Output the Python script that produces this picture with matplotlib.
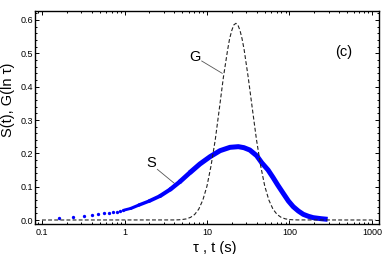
import numpy as np
import matplotlib.pyplot as plt
from matplotlib.collections import LineCollection
from matplotlib.ticker import LogLocator, MultipleLocator, NullFormatter

plt.rcParams['font.family'] = ['Liberation Sans', 'DejaVu Sans']

# G(ln tau), dashed curve
tau = [0.1, 3.98, 4.47, 5.01, 5.62, 6.31, 7.08, 7.94, 8.91, 10.0, 11.2, 12.6,
       14.1, 15.8, 17.8, 18.8, 20.0, 21.1, 22.4, 23.7, 25.1, 26.6, 28.2, 31.6,
       35.5, 39.8, 44.7, 50.1, 56.2, 63.1, 70.8, 79.4, 89.1, 100, 112, 126, 1100]
G = [0.0, 0.0002, 0.0005, 0.0014, 0.0034, 0.0078, 0.0165, 0.0325, 0.060, 0.102,
     0.163, 0.241, 0.333, 0.428, 0.511, 0.544, 0.569, 0.585, 0.590, 0.585, 0.569,
     0.544, 0.511, 0.428, 0.333, 0.241, 0.163, 0.102, 0.060, 0.0325, 0.0165,
     0.0078, 0.0034, 0.0014, 0.0005, 0.0002, 0.0]

# S(t), sampled points at small t
t_dots = [0.16, 0.24, 0.32, 0.40, 0.48, 0.56, 0.64, 0.72, 0.80, 0.88, 0.96]
S_dots = [0.006, 0.010, 0.013, 0.015, 0.017, 0.020, 0.021, 0.023, 0.025, 0.027, 0.029]

# S(t), dense part drawn as a thick line
t_line = [1.0, 1.2, 1.5, 2.0, 2.7, 3.6, 4.7, 6.2, 8.2, 10.9, 14.4, 19.0, 24.0,
          28.0, 33.0, 40.0, 46.0, 55.0, 63.0, 72.0, 84.0, 97.0, 111.0, 128.0,
          147.0, 170.0, 194.0, 240.0, 290.0]
S_line = [0.030, 0.035, 0.045, 0.057, 0.072, 0.092, 0.115, 0.142, 0.168, 0.190,
          0.208, 0.218, 0.220, 0.217, 0.210, 0.193, 0.172, 0.150, 0.128, 0.105,
          0.080, 0.057, 0.040, 0.027, 0.017, 0.011, 0.007, 0.004, 0.002]

fig = plt.figure(figsize=(3.82, 2.54), dpi=100)
ax = fig.add_axes([0.0916, 0.1181, 0.9005, 0.8386])
ax.set_xscale('log')
ax.set_xlim(0.0822, 1216)
ax.set_ylim(-0.012, 0.627)

# S curve: dots, then a line that thickens as the samples crowd together
ax.plot(t_dots, S_dots, 'o', color='#0000ff', ms=2.4, mec='none', zorder=3)
k = 8  # first segments get growing widths, the rest is one plain line
pts = np.column_stack([t_line[:k], S_line[:k]])
segs = np.stack([pts[:-1], pts[1:]], axis=1)
mid = np.log10(np.sqrt(np.array(t_line[:k - 1]) * np.array(t_line[1:k])))
widths = np.interp(mid, [0.0, 0.8], [2.0, 3.5])
lc = LineCollection(segs, colors='#0000ff', linewidths=widths,
                    capstyle='round', joinstyle='round', zorder=3)
ax.add_collection(lc)
ax.plot(t_line[k - 1:], S_line[k - 1:], color='#0000ff', lw=3.6,
        solid_capstyle='butt', solid_joinstyle='round', zorder=3)

# G curve
ax.plot(tau, G, color='#222222', lw=0.8, ls=(0, (3.5, 2)), zorder=4)

# labels on the curves
ax.text(7.16, 0.489, 'G', fontsize=10.5, ha='center', va='center')
ax.plot([8.63, 15.3], [0.477, 0.44], color='#555555', lw=0.6)
ax.text(2.08, 0.172, 'S', fontsize=10.5, ha='center', va='center')
ax.plot([2.50, 4.02], [0.152, 0.110], color='#555555', lw=0.6)
ax.text(449, 0.505, '(c)', fontsize=10.5, ha='center', va='center')

ax.set_xticks([0.1, 1, 10, 100, 1000], labels=['0.1', '1', '10', '100', '1000'])
ax.xaxis.set_minor_locator(LogLocator(base=10, subs=np.arange(2, 10), numticks=20))
ax.xaxis.set_minor_formatter(NullFormatter())
ax.set_yticks([0.0, 0.1, 0.2, 0.3, 0.4, 0.5, 0.6],
              labels=['0.0', '0.1', '0.2', '0.3', '0.4', '0.5', '0.6'])
ax.yaxis.set_minor_locator(MultipleLocator(0.02))

ax.tick_params(which='both', direction='in', top=True, right=True,
               labelsize=6.5, width=0.7)
ax.tick_params(which='major', length=3)
ax.tick_params(which='minor', length=1.6)
ax.tick_params(axis='y', pad=1.5)
ax.tick_params(axis='x', pad=3)
for s in ax.spines.values():
    s.set_linewidth(1.0)

fig.text(215 / 382, 1 - 248 / 254, r'τ , t (s)', fontsize=10.5,
         ha='center', va='center')
fig.text(8 / 382, 1 - 100 / 254, r'S(t), G(ln τ)', fontsize=10.5,
         ha='center', va='center', rotation=90)

fig.savefig('out.png', dpi=100)
